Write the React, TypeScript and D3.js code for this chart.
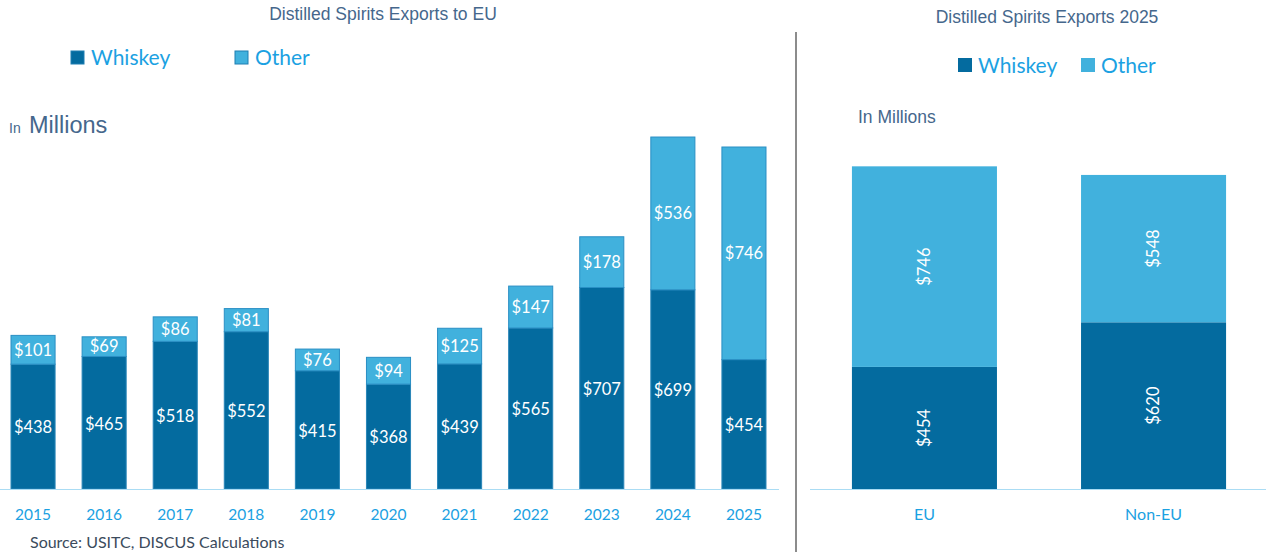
import React, { useRef, useEffect } from 'react';
import * as d3 from 'd3';

const years = ['2015', '2016', '2017', '2018', '2019', '2020', '2021', '2022', '2023', '2024', '2025'];
const whiskeyEU = [438, 465, 518, 552, 415, 368, 439, 565, 707, 699, 454];
const otherEU = [101, 69, 86, 81, 76, 94, 125, 147, 178, 536, 746];

const regions = ['EU', 'Non-EU'];
const whiskey2025 = [454, 620];
const other2025 = [746, 548];

const WHISKEY = '#046b9f';
const OTHER = '#41b1dd';
const TICK = '#1ba1e2';
const TITLE = '#45678c';
const LABEL_FONT = 'Lato, "Open Sans", sans-serif';
const TITLE_FONT = '"Liberation Sans", Arial, sans-serif';

const App: React.FC = () => {
  const svgRef = useRef<SVGSVGElement>(null);

  useEffect(() => {
    const svg = d3.select(svgRef.current);
    svg.selectAll('*').remove();

    const base = 489;

    // ---- left chart: exports to EU by year
    const x = d3.scaleBand().domain(years).range([-2.5, 779.5]).paddingInner(0.38).paddingOuter(0.19);
    const y = d3.scaleLinear().domain([0, 1700]).range([base, 4.5]);

    const left = svg.append('g');
    const rows = years.map((yr, i) => ({ yr, w: whiskeyEU[i], o: otherEU[i] }));

    left.selectAll('rect.w')
      .data(rows)
      .join('rect')
      .attr('x', d => x(d.yr)!)
      .attr('y', d => y(d.w))
      .attr('width', x.bandwidth())
      .attr('height', d => base - y(d.w))
      .attr('fill', WHISKEY)
      .attr('stroke', '#2a86b8')
      .attr('stroke-width', 1);

    left.selectAll('rect.o')
      .data(rows)
      .join('rect')
      .attr('x', d => x(d.yr)!)
      .attr('y', d => y(d.w + d.o))
      .attr('width', x.bandwidth())
      .attr('height', d => y(d.w) - y(d.w + d.o))
      .attr('fill', OTHER)
      .attr('stroke', '#2a8fc4')
      .attr('stroke-width', 1);

    left.selectAll('text.w')
      .data(rows)
      .join('text')
      .attr('x', d => x(d.yr)! + x.bandwidth() / 2)
      .attr('y', d => (y(d.w) + base) / 2 + 1)
      .attr('dy', '0.35em')
      .attr('text-anchor', 'middle')
      .attr('fill', '#fff')
      .attr('font-family', LABEL_FONT)
      .attr('font-size', 16.5)
      .text(d => `$${d.w}`);

    left.selectAll('text.o')
      .data(rows)
      .join('text')
      .attr('x', d => x(d.yr)! + x.bandwidth() / 2)
      .attr('y', d => (y(d.w) + y(d.w + d.o)) / 2)
      .attr('dy', '0.35em')
      .attr('text-anchor', 'middle')
      .attr('fill', '#fff')
      .attr('font-family', LABEL_FONT)
      .attr('font-size', 16.5)
      .text(d => `$${d.o}`);

    const ax = left.append('g')
      .attr('transform', `translate(0,${base})`)
      .call(d3.axisBottom(x).tickSize(0).tickPadding(20));
    ax.select('.domain').attr('stroke', '#aadcf4').attr('d', 'M0,0.5H779');
    ax.selectAll('text')
      .attr('fill', TICK)
      .attr('font-family', LABEL_FONT)
      .attr('font-size', 15.5);

    left.append('text')
      .attr('x', 383).attr('y', 20)
      .attr('text-anchor', 'middle')
      .attr('fill', TITLE)
      .attr('font-family', TITLE_FONT)
      .attr('font-size', 17.5)
      .text('Distilled Spirits Exports to EU');

    left.append('text')
      .attr('x', 9).attr('y', 133)
      .attr('fill', TITLE)
      .attr('font-family', TITLE_FONT)
      .attr('font-size', 14)
      .text('In');
    left.append('text')
      .attr('x', 29).attr('y', 133)
      .attr('fill', TITLE)
      .attr('font-family', TITLE_FONT)
      .attr('font-size', 23.5)
      .text('Millions');

    left.append('text')
      .attr('x', 30).attr('y', 548)
      .attr('fill', '#3b4b5c')
      .attr('font-family', LABEL_FONT)
      .attr('font-size', 16)
      .text('Source: USITC, DISCUS Calculations');

    const legL = [
      { name: 'Whiskey', c: WHISKEY, x: 71 },
      { name: 'Other', c: OTHER, x: 235 },
    ];
    legL.forEach(l => {
      left.append('rect').attr('x', l.x).attr('y', 51).attr('width', 13).attr('height', 13)
        .attr('fill', l.c).attr('stroke', '#1f7fb2').attr('stroke-width', 1);
      left.append('text').attr('x', l.x + 20).attr('y', 65)
        .attr('fill', TICK).attr('font-family', LABEL_FONT).attr('font-size', 21)
        .text(l.name);
    });

    // divider
    svg.append('line')
      .attr('x1', 796).attr('x2', 796).attr('y1', 32).attr('y2', 552)
      .attr('stroke', '#8c8c8c').attr('stroke-width', 2);

    // ---- right chart: 2025 EU vs Non-EU
    const x2 = d3.scaleBand().domain(regions).range([810, 1268]).paddingInner(0.367).paddingOuter(0.183);
    const y2 = d3.scaleLinear().domain([0, 1800]).range([base, 5]);
    const right = svg.append('g');
    const rows2 = regions.map((r, i) => ({ r, w: whiskey2025[i], o: other2025[i] }));

    right.selectAll('rect.w')
      .data(rows2)
      .join('rect')
      .attr('x', d => x2(d.r)!)
      .attr('y', d => y2(d.w))
      .attr('width', x2.bandwidth())
      .attr('height', d => base - y2(d.w))
      .attr('fill', WHISKEY);

    right.selectAll('rect.o')
      .data(rows2)
      .join('rect')
      .attr('x', d => x2(d.r)!)
      .attr('y', d => y2(d.w + d.o))
      .attr('width', x2.bandwidth())
      .attr('height', d => y2(d.w) - y2(d.w + d.o))
      .attr('fill', OTHER);

    const rotLabel = (cx: number, cy: number, t: string) =>
      right.append('text')
        .attr('transform', `translate(${cx},${cy}) rotate(-90)`)
        .attr('dy', '0.35em')
        .attr('text-anchor', 'middle')
        .attr('fill', '#fff')
        .attr('font-family', LABEL_FONT)
        .attr('font-size', 16.5)
        .text(t);

    rows2.forEach(d => {
      const cx = x2(d.r)! + x2.bandwidth() / 2;
      rotLabel(cx, (base + y2(d.w)) / 2, `$${d.w}`);
      rotLabel(cx, (y2(d.w) + y2(d.w + d.o)) / 2, `$${d.o}`);
    });

    const ax2 = right.append('g')
      .attr('transform', `translate(0,${base})`)
      .call(d3.axisBottom(x2).tickSize(0).tickPadding(20));
    ax2.select('.domain').attr('stroke', '#aadcf4').attr('d', 'M810,0.5H1266');
    ax2.selectAll('text')
      .attr('fill', TICK)
      .attr('font-family', LABEL_FONT)
      .attr('font-size', 16);

    right.append('text')
      .attr('x', 1047).attr('y', 23)
      .attr('text-anchor', 'middle')
      .attr('fill', TITLE)
      .attr('font-family', TITLE_FONT)
      .attr('font-size', 17.5)
      .text('Distilled Spirits Exports 2025');

    right.append('text')
      .attr('x', 858).attr('y', 123)
      .attr('fill', TITLE)
      .attr('font-family', TITLE_FONT)
      .attr('font-size', 17.5)
      .text('In Millions');

    const legR = [
      { name: 'Whiskey', c: WHISKEY, x: 958 },
      { name: 'Other', c: OTHER, x: 1081 },
    ];
    legR.forEach(l => {
      right.append('rect').attr('x', l.x).attr('y', 58).attr('width', 14).attr('height', 14)
        .attr('fill', l.c);
      right.append('text').attr('x', l.x + 20).attr('y', 73)
        .attr('fill', TICK).attr('font-family', LABEL_FONT).attr('font-size', 21)
        .text(l.name);
    });
  }, []);

  return (
    <svg
      ref={svgRef}
      width={1266}
      height={554}
      style={{ position: 'absolute', left: 0, top: 0, background: '#fff' }}
    />
  );
};

export default App;
